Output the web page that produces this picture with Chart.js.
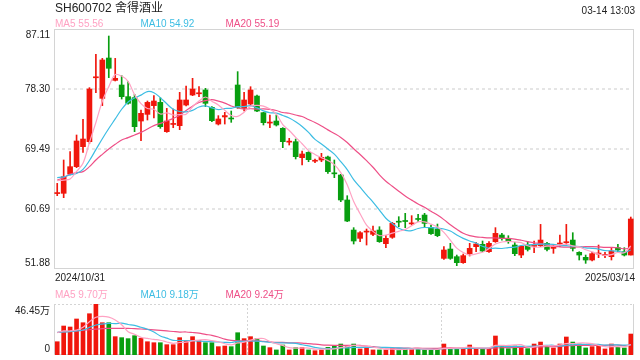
<!DOCTYPE html>
<html><head><meta charset="utf-8">
<script src="https://cdn.jsdelivr.net/npm/chart.js@4.4.1/dist/chart.umd.min.js"></script>
<style>
html,body{margin:0;padding:0;background:#fff;}
#wrap{position:relative;width:640px;height:360px;overflow:hidden;}
canvas{position:absolute;left:0;top:0;}
</style></head><body>
<div id="wrap"><canvas id="k" width="640" height="360"></canvas><canvas id="v" width="640" height="360"></canvas></div>
<script>
const dates = ['2024/10/31',
'2024/11/01','2024/11/04','2024/11/05','2024/11/06','2024/11/07','2024/11/08','2024/11/11','2024/11/12','2024/11/13','2024/11/14','2024/11/15','2024/11/18','2024/11/19','2024/11/20','2024/11/21','2024/11/22','2024/11/25','2024/11/26','2024/11/27','2024/11/28','2024/11/29',
'2024/12/02','2024/12/03','2024/12/04','2024/12/05','2024/12/06','2024/12/09','2024/12/10','2024/12/11','2024/12/12','2024/12/13','2024/12/16','2024/12/17','2024/12/18','2024/12/19','2024/12/20','2024/12/23','2024/12/24','2024/12/25','2024/12/26','2024/12/27','2024/12/30','2024/12/31',
'2025/01/02','2025/01/03','2025/01/06','2025/01/07','2025/01/08','2025/01/09','2025/01/10','2025/01/13','2025/01/14','2025/01/15','2025/01/16','2025/01/17','2025/01/20','2025/01/21','2025/01/22','2025/01/23','2025/01/24','2025/01/27',
'2025/02/05','2025/02/06','2025/02/07','2025/02/10','2025/02/11','2025/02/12','2025/02/13','2025/02/14','2025/02/17','2025/02/18','2025/02/19','2025/02/20','2025/02/21','2025/02/24','2025/02/25','2025/02/26','2025/02/27','2025/02/28',
'2025/03/03','2025/03/04','2025/03/05','2025/03/06','2025/03/07','2025/03/10','2025/03/11','2025/03/12','2025/03/13','2025/03/14'];

const opens  = [62.95,62.99,65.82,66.90,69.84,70.57,79.95,76.93,82.85,79.57,78.89,77.18,77.03,73.60,74.58,75.86,76.34,72.04,73.10,72.92,75.95,77.42,77.60,78.16,75.61,73.16,74.20,74.05,78.89,75.46,76.10,77.27,74.83,73.30,73.60,72.53,70.50,70.57,68.22,69.00,67.70,67.88,68.32,66.00,65.68,62.01,57.60,56.38,57.30,56.97,57.60,55.60,56.53,58.90,59.00,58.50,59.30,59.80,57.99,57.75,53.44,54.81,53.69,52.81,54.13,55.16,55.50,54.42,55.89,56.87,56.28,55.40,53.93,55.40,55.20,55.30,55.65,54.91,55.55,55.74,56.13,54.33,53.59,53.20,54.08,53.88,53.69,55.01,54.42,53.93];
const highs  = [64.45,67.88,69.10,71.55,73.85,78.50,83.39,82.80,86.08,82.80,80.26,79.38,77.52,75.22,76.54,77.32,77.03,75.46,75.37,77.81,78.74,79.87,78.64,78.40,75.71,74.39,74.88,75.07,80.85,77.81,78.64,77.42,74.88,74.49,74.49,72.63,71.06,70.96,69.20,69.10,68.03,68.86,68.47,67.88,65.78,62.64,57.95,57.36,57.75,58.19,58.09,56.77,58.73,59.56,60.05,59.71,59.90,60.05,58.34,58.48,55.16,55.65,53.93,54.08,55.65,55.79,55.99,55.89,57.95,57.11,56.77,55.79,55.30,55.89,55.99,58.43,55.79,55.40,56.87,58.43,57.21,54.42,53.93,54.33,55.40,54.33,54.91,55.50,55.01,59.51];
const lows   = [62.64,62.35,65.68,66.75,69.00,70.32,77.76,75.86,79.97,79.48,76.83,76.06,72.04,70.72,73.75,74.07,72.53,71.94,72.62,72.33,75.81,77.32,77.18,75.71,73.51,73.02,73.16,73.41,75.46,75.07,75.95,74.97,73.02,72.63,72.87,69.69,70.08,68.03,67.14,67.63,67.49,67.63,65.92,65.29,61.76,58.83,55.55,55.89,55.40,56.77,55.79,55.01,56.38,58.09,57.95,58.34,58.83,57.99,56.97,56.62,53.30,53.30,52.37,52.71,53.79,54.42,54.42,54.33,55.79,56.13,55.65,53.84,53.54,54.52,54.28,55.16,54.52,54.18,55.16,55.50,54.52,53.20,52.71,53.05,53.54,53.54,53.20,54.42,53.79,53.93];
const closes = [63.05,65.43,66.90,70.67,70.96,78.30,80.05,82.56,81.34,79.87,77.18,76.20,72.77,74.73,76.34,76.54,72.77,73.60,73.20,76.69,76.69,78.30,77.75,76.20,73.65,73.90,74.40,73.90,75.61,76.69,78.16,75.07,73.36,73.45,73.02,70.57,70.65,68.37,68.76,67.93,67.80,68.27,66.17,65.85,62.01,58.92,55.99,57.21,57.40,57.46,55.89,56.38,58.58,58.75,58.85,58.65,59.15,58.58,57.07,56.77,54.67,53.44,52.81,53.84,54.91,55.55,54.52,55.65,57.11,56.38,55.99,54.13,55.21,54.76,55.30,56.13,54.76,55.26,55.65,55.84,54.91,53.93,53.20,54.13,54.18,53.98,54.52,54.67,53.93,59.22];

const ma5  = [64.85,64.94,65.09,66.2,67.40,70.45,73.38,76.51,78.64,80.42,80.20,79.43,77.47,76.15,75.44,75.32,74.63,74.80,74.49,74.56,74.59,75.70,76.53,77.13,76.52,75.96,75.18,74.41,74.29,74.90,75.75,75.89,75.78,75.35,74.61,73.09,72.21,71.21,70.27,69.26,68.70,68.23,67.79,67.20,66.02,64.24,61.79,60.00,58.31,57.40,56.79,56.87,57.14,57.41,57.69,58.24,58.80,58.80,58.46,58.04,57.25,56.11,54.95,54.31,53.93,54.11,54.33,54.89,55.55,55.84,55.93,55.85,55.76,55.29,55.08,55.11,55.23,55.24,55.42,55.53,55.28,55.12,54.71,54.40,54.07,53.88,54.00,54.30,54.26,55.26];
const ma10 = [65.3,65.4,65.7,65.9,66.5,67.8,69.4,71.0,72.5,73.91,75.33,76.40,76.99,77.40,77.93,77.76,77.03,76.13,75.32,75.00,74.95,75.16,75.66,75.81,75.54,75.28,75.44,75.47,75.71,75.71,75.86,75.53,75.09,74.82,74.76,74.42,74.05,73.50,72.81,71.93,70.90,70.22,69.50,68.74,67.64,66.47,65.01,63.89,62.76,61.71,60.52,59.33,58.57,57.86,57.54,57.52,57.83,57.97,57.94,57.87,57.75,57.45,56.87,56.38,55.99,55.68,55.22,54.92,54.93,54.89,55.02,55.09,55.33,55.42,55.46,55.52,55.54,55.50,55.36,55.30,55.20,55.18,54.97,54.91,54.80,54.58,54.56,54.50,54.33,54.67];
const ma20 = [64.94,65.28,65.82,66.02,66.17,66.90,67.88,68.71,69.49,70.18,70.81,71.16,71.55,71.94,72.43,72.92,73.26,73.60,73.99,74.46,75.14,75.78,76.33,76.60,76.74,76.52,76.23,75.80,75.51,75.36,75.40,75.35,75.38,75.31,75.15,74.85,74.74,74.48,74.26,73.82,73.38,72.88,72.30,71.78,71.20,70.45,69.53,68.69,67.78,66.82,65.71,64.77,64.03,63.30,62.59,61.99,61.42,60.93,60.35,59.79,59.13,58.39,57.72,57.12,56.77,56.60,56.52,56.45,56.43,56.38,56.38,56.27,56.10,55.90,55.72,55.60,55.38,55.21,55.14,55.10,55.11,55.13,55.15,55.17,55.13,55.05,55.05,55.00,54.84,54.99];

const volumes = [12.1,26.4,25.5,32.8,29.4,37.6,46.45,29.4,29.4,16.7,15.8,14.9,17.6,15.2,12.1,11.2,11.2,9.4,9.4,15.8,13.1,16.7,13.1,11.2,11.2,7.6,8.2,7.6,20.3,14.9,16.7,14.9,8.2,6.7,4.6,9.1,4.6,6.7,6.7,4.6,3.9,4.6,7.0,8.2,10.0,8.2,10.0,5.5,7.0,4.6,4.6,4.6,5.8,5.2,5.8,5.8,5.8,4.6,4.6,5.2,10.0,5.8,5.8,5.8,9.1,5.8,5.8,5.8,17.3,8.8,5.8,8.2,7.0,5.8,10.0,11.8,7.6,6.4,10.0,16.4,11.8,10.0,6.4,7.6,8.2,5.5,10.0,7.0,6.4,19.1];
const vma5  = [20.3,21.9,21.9,22.8,25.24,30.34,34.35,35.13,34.45,31.91,27.55,21.24,18.88,16.04,15.12,14.2,13.46,11.82,10.66,11.4,11.78,12.88,13.62,13.98,13.06,11.96,10.26,9.16,10.98,11.72,13.54,14.88,15.0,12.28,10.22,8.7,6.64,6.34,6.34,6.34,5.3,5.3,5.36,5.66,6.74,7.6,8.68,8.38,8.14,7.06,6.34,5.26,5.32,4.96,5.2,5.44,5.68,5.44,5.32,5.2,6.04,6.04,6.28,6.52,7.3,6.46,6.46,6.46,8.76,8.7,8.7,9.18,9.42,7.12,7.36,8.56,8.44,8.32,9.16,10.44,10.44,10.92,10.92,10.44,8.8,7.54,7.54,7.66,7.42,9.6];
const vma10 = [20.6,21.0,21.3,21.9,22.8,25.2,27.3,28.2,28.8,28.58,28.95,27.8,27.0,25.25,23.5,20.9,17.35,15.35,13.35,13.26,12.99,13.17,12.72,12.32,12.23,11.87,11.57,11.39,12.48,12.39,12.75,12.57,12.08,11.63,10.97,11.12,10.76,10.67,9.31,8.28,7.0,5.97,5.85,6.0,6.54,6.45,6.99,6.87,6.9,6.9,6.97,6.97,6.85,6.55,6.13,5.89,5.47,5.38,5.14,5.2,5.74,5.86,5.86,5.92,6.25,6.25,6.25,6.37,7.64,8.0,7.58,7.82,7.94,7.94,8.03,8.63,8.81,8.87,8.14,8.9,9.5,9.68,9.62,9.8,9.62,8.99,9.23,9.29,8.93,9.2];
const vma20 = [20.5,21.0,21.5,22.0,22.5,23.0,23.5,24.0,24.2,24.3,24.3,24.2,24.0,23.7,23.3,22.9,22.4,21.9,21.4,20.92,20.97,20.48,19.86,18.78,17.87,16.37,14.46,13.37,12.92,12.83,12.87,12.87,12.4,11.98,11.6,11.5,11.17,11.03,10.9,10.34,9.88,9.27,8.97,8.82,8.76,8.79,8.88,8.77,8.11,7.59,6.99,6.47,6.35,6.28,6.34,6.17,6.23,6.13,6.02,6.05,6.36,6.42,6.36,6.24,6.19,6.07,5.86,5.88,6.39,6.6,6.66,6.84,6.9,6.93,7.14,7.44,7.53,7.62,7.89,8.45,8.54,8.75,8.78,8.87,8.83,8.81,9.02,9.08,8.54,9.05];

const priceTicks = [87.11, 78.30, 69.49, 60.69, 51.88];
const volTicks = [46.45, 0];
const volTickLabels = ['46.45万', '0'];
const titleText = 'SH600702 舍得酒业';
const timeText = '03-14 13:03';
const priceMaLabels = ['MA5 55.56', 'MA10 54.92', 'MA20 55.19'];
const volMaLabels = ['MA5 9.70万', 'MA10 9.18万', 'MA20 9.24万'];

const RED = 'rgb(240,22,12)', GREEN = 'rgb(8,158,16)';
const C5 = '#ffa2c3', C10 = '#3dbde3', C20 = '#ee4f87';
const MA_COLORS = [C5, C10, C20];
const MA_X = [55, 140.5, 225.5];
const FONT = '"Liberation Sans", Arial, "Noto Sans CJK SC", sans-serif';
const TXT = '#222';

const candleColors = closes.map((c, i) => c >= opens[i] ? RED : GREEN);

const kDeco = {
  id: 'kdeco',
  beforeDatasetsDraw(chart) {
    const {ctx, chartArea: a, scales: {y}} = chart;
    ctx.save();
    ctx.strokeStyle = '#e5e5e5'; ctx.lineWidth = 2; ctx.setLineDash([3, 3]);
    priceTicks.slice(1, -1).forEach(t => {
      const py = Math.round(y.getPixelForValue(t));
      ctx.beginPath(); ctx.moveTo(a.left + 2, py); ctx.lineTo(a.right - 2, py); ctx.stroke();
    });
    ctx.setLineDash([]); ctx.strokeStyle = '#d4d4d4'; ctx.lineWidth = 1;
    ctx.strokeRect(a.left + 0.5, a.top + 0.5, a.right - a.left - 1, a.bottom - a.top - 1);
    ctx.restore();
  },
  afterDraw(chart) {
    const {ctx, chartArea: a, scales: {y}} = chart;
    ctx.save();
    ctx.textBaseline = 'middle';
    ctx.fillStyle = TXT; ctx.font = '12px ' + FONT; ctx.textAlign = 'left';
    ctx.fillText(titleText, 55, 8.5);
    ctx.font = '10px ' + FONT; ctx.textAlign = 'right';
    ctx.fillText(timeText, 635, 11);
    ctx.textAlign = 'left';
    priceMaLabels.forEach((t, i) => { ctx.fillStyle = MA_COLORS[i]; ctx.fillText(t, MA_X[i], 24); });
    ctx.fillStyle = TXT; ctx.textAlign = 'right';
    priceTicks.forEach((t, i) => {
      let py = y.getPixelForValue(t);
      if (i === 0) py += 6.5; else if (i === priceTicks.length - 1) py -= 6; 
      ctx.fillText(t.toFixed(2), 50, py);
    });
    ctx.textAlign = 'left'; ctx.fillText(dates[0], 55, 278);
    ctx.textAlign = 'right'; ctx.fillText(dates[dates.length - 1], 635, 278);
    ctx.restore();
  }
};

const vDeco = {
  id: 'vdeco',
  beforeDatasetsDraw(chart) {
    const {ctx, chartArea: a} = chart;
    ctx.save();
    ctx.strokeStyle = '#d4d4d4'; ctx.lineWidth = 1; ctx.setLineDash([2, 2]);
    ctx.beginPath(); ctx.moveTo(a.left, a.top + 0.5); ctx.lineTo(a.right, a.top + 0.5); ctx.stroke();
    [1, 2].forEach(k => {
      const px = Math.round(a.left + (a.right - a.left) * k / 3) + 0.5;
      ctx.beginPath(); ctx.moveTo(px, a.top); ctx.lineTo(px, a.bottom); ctx.stroke();
    });
    ctx.setLineDash([]);
    ctx.beginPath();
    ctx.moveTo(a.left + 0.5, a.top); ctx.lineTo(a.left + 0.5, a.bottom - 0.5);
    ctx.lineTo(a.right - 0.5, a.bottom - 0.5); ctx.lineTo(a.right - 0.5, a.top);
    ctx.stroke();
    ctx.restore();
  },
  afterDraw(chart) {
    const {ctx, scales: {y}} = chart;
    ctx.save();
    ctx.textBaseline = 'middle'; ctx.font = '10px ' + FONT; ctx.textAlign = 'left';
    volMaLabels.forEach((t, i) => { ctx.fillStyle = MA_COLORS[i]; ctx.fillText(t, MA_X[i], 295); });
    ctx.fillStyle = TXT; ctx.textAlign = 'right';
    volTicks.forEach((t, i) => {
      let py = y.getPixelForValue(t);
      py += (i === 0) ? 7 : -6;
      ctx.fillText(volTickLabels[i], 50, py);
    });
    ctx.restore();
  }
};

function maLine(data, color) {
  return {type: 'line', data, borderColor: color, borderWidth: 1.2, pointRadius: 0, tension: 0.35, fill: false, order: 0};
}

const common = {
  responsive: false, animation: false, devicePixelRatio: 1,
  plugins: {legend: {display: false}, tooltip: {enabled: false}},
  events: []
};

new Chart(document.getElementById('k'), {
  type: 'bar',
  data: {
    labels: dates,
    datasets: [
      maLine(ma5, C5), maLine(ma10, C10), maLine(ma20, C20),
      {type: 'bar', data: opens.map((o, i) => [o, closes[i]]), backgroundColor: candleColors, barThickness: 5, minBarLength: 1, grouped: false, order: 1},
      {type: 'bar', data: lows.map((l, i) => [l, highs[i]]), backgroundColor: candleColors, barThickness: 1, grouped: false, order: 2}
    ]
  },
  options: Object.assign({}, common, {
    layout: {padding: {left: 54, top: 29, right: 6, bottom: 91}},
    scales: {
      x: {display: false, offset: true},
      y: {display: false, min: priceTicks[priceTicks.length - 1], max: priceTicks[0]}
    }
  }),
  plugins: [kDeco]
});

new Chart(document.getElementById('v'), {
  type: 'bar',
  data: {
    labels: dates,
    datasets: [
      maLine(vma5, C5), maLine(vma10, C10), maLine(vma20, C20),
      {type: 'bar', data: volumes, backgroundColor: candleColors, barThickness: 4, grouped: false, order: 1}
    ]
  },
  options: Object.assign({}, common, {
    layout: {padding: {left: 54, top: 304, right: 6, bottom: 5}},
    scales: {
      x: {display: false, offset: true},
      y: {display: false, min: volTicks[1], max: volTicks[0]}
    }
  }),
  plugins: [vDeco]
});
</script>
</body></html>
